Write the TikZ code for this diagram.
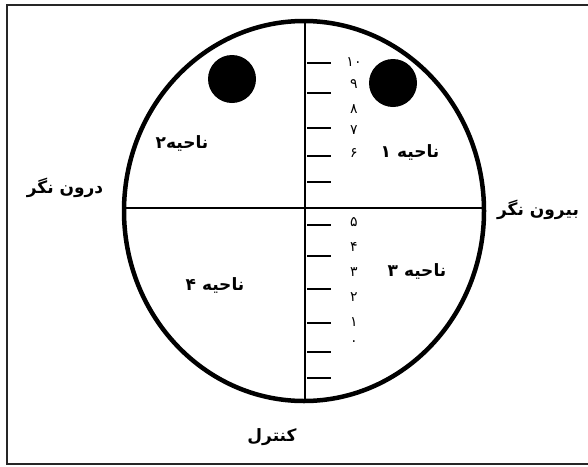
\documentclass[tikz,border=0pt]{standalone}
\usepackage{fontspec}
\TeXXeTstate=1
\newfontfamily\arabicfont[Script=Arabic]{DejaVu Sans}
\tikzset{
  lbl/.style={font=\arabicfont\bfseries\fontsize{17}{19}\selectfont, inner sep=0pt},
  num/.style={font=\arabicfont\fontsize{14}{16}\selectfont, inner sep=0pt},
  tick/.style={line width=1.4pt},
  axis/.style={line width=1.4pt},
  frame/.style={line width=2pt, draw=black!85},
  dot/.style={circle, fill=black, minimum size=48pt, inner sep=0pt}
}
\begin{document}
\begin{tikzpicture}[x=1pt,y=-1pt]
\useasboundingbox (0,0) rectangle (588,466);
% frame
\draw[frame] (592,5) -- (7,5) -- (7,464) -- (592,464);
% ellipse
\draw[line width=4.5pt] (304,211) ellipse [x radius=180, y radius=190];
% axes
\coordinate (top) at (305,21);
\coordinate (bot) at (305,401);
\coordinate (lft) at (124,208);
\coordinate (rgt) at (484,208);
\draw[axis] (top) -- (bot);
\draw[axis] (lft) -- (rgt);
% dots
\node[dot] (d1) at (232,79) {};
\node[dot] (d2) at (393,83) {};
% ticks
\foreach \y in {63,93,128,156,182,225,256,289,323,352,378}
  \draw[tick] (307,\y) -- (331,\y);
% numbers
\node[num] (n10) at (354,62) {۱۰};
\node[num] (n9) at (354,84) {۹};
\node[num] (n8) at (354,109) {۸};
\node[num] (n7) at (354,130) {۷};
\node[num] (n6) at (354,153) {۶};
\node[num] (n5) at (354,222) {۵};
\node[num] (n4) at (354,247) {۴};
\node[num] (n3) at (354,272) {۳};
\node[num] (n2) at (354,297) {۲};
\node[num] (n1) at (354,322) {۱};
\node[num] (n0) at (354,343) {۰};
% labels
\node[lbl] (z1) at (410,152) {\beginR ناحیه ۱\endR};
\node[lbl] (z2) at (182,143) {\beginR ناحیه۲\endR};
\node[lbl] (z3) at (417,271) {\beginR ناحیه ۳\endR};
\node[lbl] (z4) at (215,285) {\beginR ناحیه ۴\endR};
\node[lbl] (in) at (65,188) {\beginR درون نگر\endR};
\node[lbl] (out) at (538,210) {\beginR بیرون نگر\endR};
\node[lbl] (ctl) at (272,437) {\beginR کنترل\endR};
\end{tikzpicture}
\end{document}
